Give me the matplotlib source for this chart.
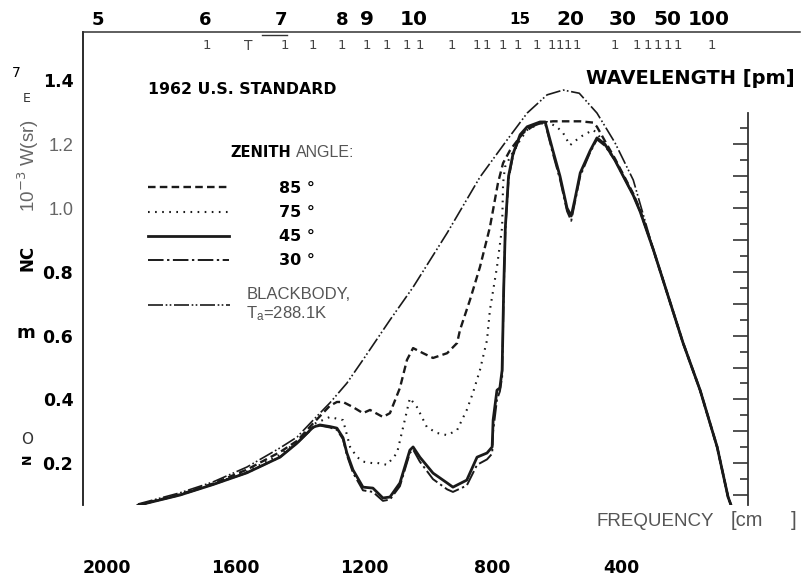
import matplotlib
matplotlib.use('Agg')
import matplotlib.pyplot as plt
from matplotlib.lines import Line2D
from matplotlib.ticker import FixedLocator

# ---------------- data ----------------
# frequency in cm^-1, radiance in the chart's units
freq_bb = [1903, 1773, 1670, 1564, 1461, 1408, 1358, 1306, 1253, 1203, 1119, 1047, 941, 839,
           755, 692, 630, 580, 530, 475, 419, 362, 299, 207, 154, 101, 67, 58]
rad_bb = [0.072, 0.107, 0.141, 0.188, 0.248, 0.282, 0.335, 0.389, 0.451, 0.524, 0.649, 0.752,
          0.922, 1.097, 1.213, 1.298, 1.355, 1.370, 1.360, 1.298, 1.205, 1.088, 0.868, 0.577,
          0.429, 0.251, 0.094, 0.069]

freq_45 = [1903, 1773, 1670, 1564, 1461, 1408, 1358, 1337, 1306, 1284, 1265, 1253, 1234, 1203,
           1172, 1141, 1119, 1088, 1057, 1047, 1026, 985, 941, 923, 880, 848, 817, 801, 798, 786,
           777, 770, 765, 760, 750, 736, 714, 692, 652, 636, 612, 590, 568, 555, 543, 527, 496,
           475, 450, 419, 388, 362, 341, 299, 207, 154, 101, 67, 58]
rad_45 = [0.068, 0.100, 0.133, 0.170, 0.219, 0.263, 0.313, 0.320, 0.315, 0.310, 0.280, 0.232,
          0.179, 0.125, 0.122, 0.091, 0.094, 0.138, 0.241, 0.251, 0.219, 0.169, 0.138, 0.125,
          0.147, 0.219, 0.232, 0.251, 0.335, 0.429, 0.436, 0.492, 0.75, 0.94, 1.10, 1.17, 1.23,
          1.255, 1.27, 1.27, 1.18, 1.10, 1.00, 0.975, 1.03, 1.11, 1.18, 1.22, 1.20, 1.15, 1.09,
          1.04, 0.99, 0.868, 0.577, 0.429, 0.251, 0.094, 0.069]

freq_30 = freq_45
rad_30 = [0.068, 0.100, 0.133, 0.170, 0.219, 0.263, 0.311, 0.318, 0.312, 0.305, 0.275, 0.225,
          0.170, 0.115, 0.110, 0.082, 0.086, 0.128, 0.232, 0.243, 0.205, 0.150, 0.118, 0.110,
          0.130, 0.195, 0.212, 0.230, 0.300, 0.400, 0.425, 0.470, 0.74, 0.93, 1.09, 1.165, 1.225,
          1.25, 1.265, 1.265, 1.17, 1.09, 0.99, 0.960, 1.02, 1.10, 1.175, 1.215, 1.195, 1.15,
          1.09, 1.04, 0.99, 0.868, 0.577, 0.429, 0.251, 0.094, 0.069]

freq_85 = [1903, 1773, 1670, 1564, 1461, 1408, 1358, 1306, 1284, 1265, 1234, 1203, 1181, 1141,
           1119, 1088, 1066, 1047, 1016, 985, 941, 910, 901, 870, 839, 808, 783, 767, 745, 705,
           661, 612, 527, 487, 475, 450, 419, 388, 362, 341, 299, 207, 154, 101, 67, 58]
rad_85 = [0.069, 0.102, 0.136, 0.180, 0.235, 0.270, 0.325, 0.380, 0.392, 0.392, 0.376, 0.357,
          0.367, 0.345, 0.357, 0.436, 0.524, 0.561, 0.545, 0.530, 0.545, 0.577, 0.618, 0.712,
          0.815, 0.940, 1.078, 1.141, 1.182, 1.235, 1.266, 1.272, 1.272, 1.268, 1.255, 1.21,
          1.155, 1.095, 1.045, 0.995, 0.868, 0.577, 0.429, 0.251, 0.094, 0.069]

freq_75 = [1903, 1773, 1670, 1564, 1461, 1408, 1358, 1306, 1265, 1243, 1222, 1203, 1172, 1159,
           1128, 1097, 1078, 1057, 1035, 1004, 973, 941, 910, 880, 861, 839, 817, 808, 786, 770,
           767, 761, 745, 714, 692, 652, 630, 600, 580, 559, 527, 487, 475, 450, 419, 388, 362,
           341, 299, 207, 154, 101, 67, 58]
rad_75 = [0.068, 0.101, 0.134, 0.174, 0.226, 0.268, 0.322, 0.345, 0.335, 0.251, 0.220, 0.205,
          0.200, 0.201, 0.195, 0.232, 0.313, 0.404, 0.376, 0.313, 0.295, 0.288, 0.304, 0.367,
          0.420, 0.492, 0.586, 0.680, 0.815, 0.940, 1.078, 1.129, 1.160, 1.213, 1.245, 1.266,
          1.270, 1.255, 1.235, 1.197, 1.223, 1.245, 1.235, 1.20, 1.152, 1.092, 1.042, 0.992,
          0.868, 0.577, 0.429, 0.251, 0.094, 0.069]

zenith_labels = ['85 \u00b0', '75 \u00b0', '45 \u00b0', '30 \u00b0']
bb_label = 'BLACKBODY,\n$\\mathregular{T_a}$=288.1K'

left_tick_vals = [1.4, 1.2, 1.0, 0.8, 0.6, 0.4, 0.2]
left_tick_labels = ['1.4', '1.2', '1.0', '0.8', '0.6', '0.4', '0.2']
bottom_tick_vals = [2000, 1600, 1200, 800, 400]
bottom_tick_labels = ['2000', '1600', '1200', '800', '400']
right_major = [0.1, 0.2, 0.3, 0.4, 0.5, 0.6, 0.7, 0.8, 0.9, 1.0, 1.1, 1.2]
right_minor = [0.15, 0.25, 0.35, 0.45, 0.55, 0.65, 0.75, 0.85, 0.95, 1.05, 1.15, 1.25]
# wavelength labels along the top (µm) and where they sit on the frequency axis
top_labels = ['5', '6', '7', '8', '9', '10', '15', '20', '30', '50', '100']
top_label_pos = [2028, 1695, 1458, 1268, 1190, 1044, 714, 558, 396, 257, 126]
top_mark_pos = [1688, 1446, 1358, 1268, 1190, 1128, 1066, 1026, 926, 848, 817, 767, 720, 661,
                615, 590, 565, 537, 419, 350, 316, 285, 254, 223, 117]

# ---------------- layout ----------------
W, H = 802, 579
L, R, T, B = 83, 748, 32, 505
ink = '#1a1a1a'
grey = '#555555'

fig = plt.figure(figsize=(W / 100, H / 100), dpi=100)
ax = fig.add_axes([L / W, 1 - B / H, (R - L) / W, (B - T) / H])
ax.set_xlim(2074, 5)
ax.set_ylim(0.069, 1.552)


def P(px, py):
    return (px - L) / (R - L), (B - py) / (B - T)


def F(px, py):
    return px / W, 1 - py / H


l85, = ax.plot(freq_85, rad_85, color=ink, lw=1.7, ls=(0, (3.2, 1.8)))
l75, = ax.plot(freq_75, rad_75, color=ink, lw=1.5, ls=(0, (0.8, 2.6)))
l45, = ax.plot(freq_45, rad_45, color=ink, lw=2.0, ls='-')
l30, = ax.plot(freq_30, rad_30, color=ink, lw=1.4, ls=(0, (8, 1.8, 1.2, 1.8)))
lbb, = ax.plot(freq_bb, rad_bb, color=ink, lw=1.2, ls=(0, (9, 1.6, 1, 1.4, 1, 1.6)))

for s in ['top', 'right', 'bottom']:
    ax.spines[s].set_visible(False)
ax.spines['left'].set_linewidth(1.3)
ax.spines['left'].set_color(ink)

# top frame line (runs past the right axis as in the scan)
fig.add_artist(Line2D([L / W, 800 / W], [1 - T / H, 1 - T / H], transform=fig.transFigure,
                      color='#333333', lw=1.1))
fig.add_artist(Line2D([262 / W, 287 / W], [1 - 35 / H, 1 - 35 / H], transform=fig.transFigure,
                      color='#333333', lw=1.0))

# right axis with inward ticks
sec = ax.secondary_yaxis('right')
sec.yaxis.set_major_locator(FixedLocator(right_major))
sec.yaxis.set_minor_locator(FixedLocator(right_minor))
sec.tick_params(which='major', direction='in', length=11, width=1.2, color='#333333',
                labelright=False)
sec.tick_params(which='minor', direction='in', length=6, width=1.2, color='#333333')
sec.spines['right'].set_bounds(0.069, 1.298)
sec.spines['right'].set_color('#333333')
sec.spines['right'].set_linewidth(1.3)

# left tick labels
ax.set_yticks(left_tick_vals)
ax.set_yticklabels(left_tick_labels)
ax.tick_params(axis='y', length=0, pad=7)
for lab in ax.get_yticklabels():
    if lab.get_text() in ('1.2', '1.0'):
        lab.set_fontfamily('Liberation Sans')
        lab.set_fontsize(13)
        lab.set_color('#666666')
    else:
        lab.set_fontweight('bold')
        lab.set_fontsize(12.5)
        lab.set_color('black')

# bottom tick labels
ax.set_xticks(bottom_tick_vals)
ax.set_xticklabels(bottom_tick_labels)
ax.tick_params(axis='x', length=0, pad=39)
for lab in ax.get_xticklabels():
    lab.set_fontweight('bold')
    lab.set_fontsize(12.5)

# top wavelength labels and marks
xt = ax.get_xaxis_transform()
for s, x in zip(top_labels, top_label_pos):
    big = s in ('9', '10', '20', '30', '50', '100')
    ax.text(x, (B - 20) / (B - T), s, transform=xt, ha='center', va='center',
            fontweight='bold', fontsize=(14.5 if big else (11 if s == '15' else 13)),
            clip_on=False)
for x in top_mark_pos:
    ax.text(x, (B - 46) / (B - T), '1', transform=xt, ha='center', va='center',
            fontsize=9.5, color='#444444', clip_on=False)
ax.text(1561, (B - 46) / (B - T), 'T', transform=xt, ha='center', va='center',
        fontsize=10, color='#444444', clip_on=False)

# texts
fig.text(*F(148, 89), '1962 U.S. STANDARD', fontweight='bold', fontsize=11.3, ha='left',
         va='center')
fig.text(*F(795, 78), 'WAVELENGTH [pm]', fontweight='bold', fontsize=14, ha='right',
         va='center')
fig.text(*F(597, 522), 'FREQUENCY', fontsize=13.5, color=grey, ha='left', va='center',
         family='Liberation Sans')
fig.text(*F(731, 520), '[cm', fontsize=14.5, color=grey, ha='left', va='center',
         family='Liberation Sans')
fig.text(*F(791, 520), ']', fontsize=14.5, color=grey, ha='left', va='center',
         family='Liberation Sans')

# y-axis title fragments
fig.text(*F(16, 73), '7', fontsize=10, ha='center', va='center')
fig.text(*F(27, 98), 'E', fontsize=9, ha='center', va='center', color='#333333')
fig.text(*F(28, 166), '10$^{-3}$ W(sr)', fontsize=13.5, rotation=90, ha='center',
         va='center', color='#666666', family='Liberation Sans')
fig.text(*F(27, 258), 'NC', fontsize=12, rotation=90, ha='center', va='center',
         fontweight='bold')
fig.text(*F(26, 333), 'm', fontsize=13, ha='center', va='center', fontweight='bold')
fig.text(*F(27, 440), 'O', fontsize=11, ha='center', va='center', color='#333333')
fig.text(*F(27, 459), 'N', fontsize=9, rotation=90, ha='center', va='center',
         fontweight='bold')

# legend
ax.text(*P(230, 153), 'ZENITH', transform=ax.transAxes, fontweight='bold', fontsize=10.5,
        ha='left', va='center')
ax.text(*P(296, 153), 'ANGLE:', transform=ax.transAxes, fontsize=11.5, color=grey,
        ha='left', va='center', family='Liberation Sans')
leg = ax.legend([l85, l75, l45, l30], zenith_labels, loc='upper left',
                bbox_to_anchor=P(148, 181), frameon=False, handlelength=5.1,
                handletextpad=3.1, labelspacing=0.57, borderpad=0, borderaxespad=0,
                prop=dict(weight='bold', size=11.5))
ax.add_artist(leg)
leg2 = ax.legend([lbb], [bb_label], loc='upper left', bbox_to_anchor=P(148, 287),
                 frameon=False, handlelength=4.9, handletextpad=1.0, borderpad=0,
                 borderaxespad=0, labelcolor=grey,
                 prop=dict(family='Liberation Sans', size=12))

fig.savefig('out.png', dpi=100)
